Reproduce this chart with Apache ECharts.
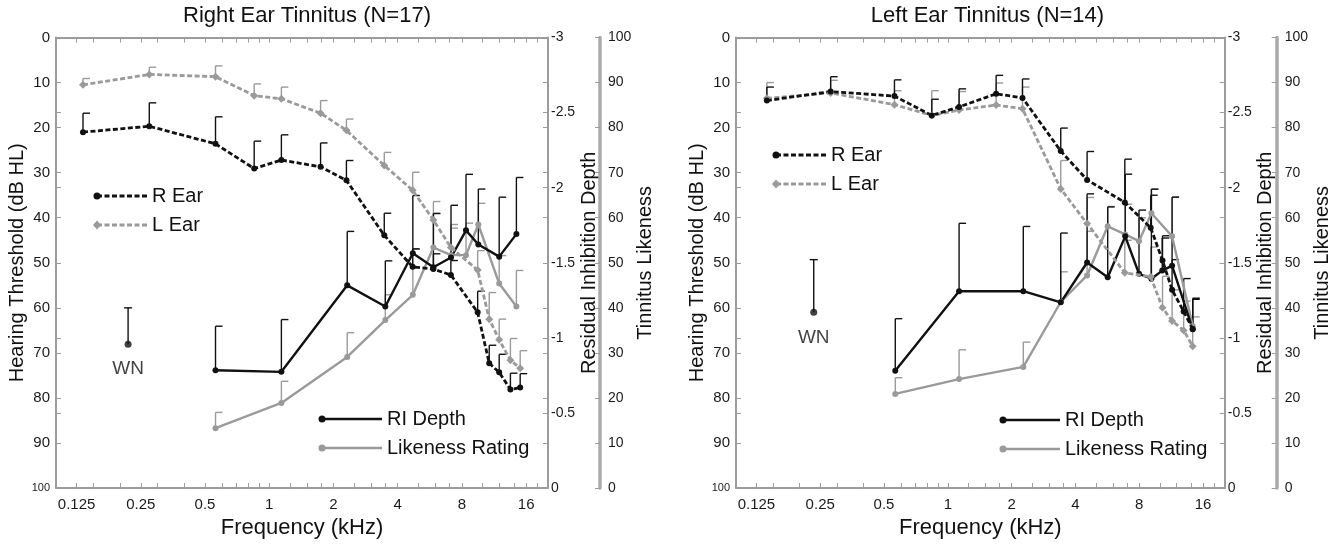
<!DOCTYPE html>
<html>
<head>
<meta charset="utf-8">
<script src="https://cdn.jsdelivr.net/npm/echarts@6/dist/echarts.min.js"></script>
<style>
  html, body { margin: 0; background: #fff; }
  #chart { width: 1333px; height: 544px; }
</style>
</head>
<body>
<div id="chart"></div>
<script>
'use strict';
// Hearing threshold / residual inhibition / likeness, two tinnitus groups

// ---------- frequency axis (kHz, log2 scale) ----------
const xMajorFreq = [0.125, 0.25, 0.5, 1, 2, 4, 8, 16];
const xMinorFreq = [0.15, 0.2, 0.3, 0.4, 0.6, 0.7, 0.8, 0.9, 1.25, 1.5, 1.75, 2.5, 3, 3.5, 5, 6, 7, 10, 12, 14, 18];

// ---------- Right Ear Tinnitus (N=17) ----------
const rtEarFreq = [0.134, 0.274, 0.56, 0.85, 1.14, 1.74, 2.3, 3.46, 4.7, 5.88, 7.1, 9.48, 10.74, 11.96, 13.5, 15.0];
const rtREar    = [21.0, 19.7, 23.6, 29.1, 27.2, 28.7, 31.7, 43.9, 50.9, 51.4, 52.7, 61.0, 72.3, 74.3, 78.1, 77.7];
const rtREarTop = [16.8, 14.5, 17.6, 23.0, 21.6, 23.4, 27.3, 39.0, 46.9, 48.0, 49.5, 56.3, 68.3, 70.3, 74.5, 74.6];
const rtLEar    = [10.5, 8.2, 8.7, 12.9, 13.6, 16.8, 20.6, 28.4, 33.9, 40.5, 46.6, 51.6, 62.5, 67.1, 71.6, 73.4];
const rtLEarTop = [9.1, 6.6, 6.3, 10.3, 11.0, 14.0, 18.1, 25.5, 29.9, 36.4, 42.3, 47.3, 56.6, 62.5, 66.8, 69.5];
const rtRiFreq  = [0.56, 1.14, 2.32, 3.5, 4.71, 5.88, 7.11, 8.36, 9.55, 11.96, 14.4];
const rtRi      = [-0.785, -0.774, -1.35, -1.209, -1.564, -1.47, -1.535, -1.716, -1.622, -1.541, -1.691];
const rtRiTop   = [-1.078, -1.122, -1.709, -1.513, -1.948, -1.828, -1.883, -2.089, -1.991, -1.937, -2.068];
const rtLike    = [13.3, 18.9, 29.1, 37.3, 42.9, 53.4, 51.7, 51.7, 58.5, 45.4, 40.3];
const rtLikeTop = [16.8, 23.7, 34.5, 42.9, 53.0, 61.0, 58.5, 58.8, 63.2, 51.6, 48.3];
const rtWn = [0.218, 68.1, 60.0]; // freq, mean, top

// ---------- Left Ear Tinnitus (N=14) ----------
const ltEarFreq = [0.14, 0.28, 0.56, 0.84, 1.13, 1.69, 2.25, 3.41, 4.54, 6.84, 9.06, 10.3, 11.43, 12.96, 14.3];
const ltREar    = [14.0, 12.0, 13.0, 17.3, 15.4, 12.5, 13.4, 25.2, 31.6, 36.6, 42.2, 49.5, 56.0, 60.8, 64.7];
const ltREarTop = [11.0, 8.7, 9.4, 13.7, 11.4, 8.4, 9.2, 20.1, 25.3, 27.0, 35.0, 44.0, 49.3, 53.5, 58.1];
const ltLEar    = [13.5, 12.3, 14.9, 17.3, 16.1, 15.0, 15.8, 33.6, 41.3, 52.2, 53.1, 60.0, 62.9, 65.0, 68.5];
const ltLEarTop = [10.0, 9.5, 11.8, 11.8, 12.0, 10.1, 11.0, 27.3, 35.5, 45.0, 46.5, 53.0, 56.0, 58.5, 62.0];
const ltRiFreq  = [0.565, 1.13, 2.27, 3.41, 4.54, 5.68, 6.87, 7.98, 9.13, 10.27, 11.43, 14.3];
const ltRi      = [-0.781, -1.311, -1.311, -1.237, -1.502, -1.404, -1.676, -1.427, -1.394, -1.448, -1.481, -1.057];
const ltRiTop   = [-1.128, -1.763, -1.742, -1.698, -1.959, -1.872, -2.09, -1.851, -1.99, -1.665, -1.937, -1.263];
const ltLikeFreq = [0.565, 1.13, 2.27, 3.41, 4.54, 5.68, 6.87, 7.98, 9.13, 11.43, 14.3];
const ltLike    = [20.9, 24.2, 26.9, 41.3, 47.2, 58.1, 56.3, 54.8, 61.0, 55.9, 36.0];
const ltLikeTop = [24.5, 30.7, 32.4, 48.0, 57.0, 62.5, 63.0, 60.0, 66.4, 64.6, 42.2];
const ltWn = [0.233, 61.0, 49.3];

// ---------- style ----------
const FONT = 'Liberation Sans, Arial, sans-serif';
const BLACK = '#111';
const GRAY = '#9a9a9a';
const AXIS = '#9c9c9c';
const X_MIN = -3.32, X_MAX = 4.34;

const panels = [
  {
    title: 'Right Ear Tinnitus (N=17)', left: 56, width: 492,
    earFreq: rtEarFreq, rEar: rtREar, rEarTop: rtREarTop, lEarFreq: rtEarFreq, lEar: rtLEar, lEarTop: rtLEarTop,
    riFreq: rtRiFreq, ri: rtRi, riTop: rtRiTop, likeFreq: rtRiFreq, like: rtLike, likeTop: rtLikeTop, wn: rtWn, wnGap: 11,
    legTop: { x: 97, y: 196, len: 50 }, legBot: { x: 322, y: 419, len: 60 }
  },
  {
    title: 'Left Ear Tinnitus (N=14)', left: 736, width: 493,
    earFreq: ltEarFreq, rEar: ltREar, rEarTop: ltREarTop, lEarFreq: ltEarFreq, lEar: ltLEar, lEarTop: ltLEarTop,
    riFreq: ltRiFreq, ri: ltRi, riTop: ltRiTop, likeFreq: ltLikeFreq, like: ltLike, likeTop: ltLikeTop, wn: ltWn, wnGap: 12,
    legTop: { x: 776, y: 155, len: 50 }, legBot: { x: 1003, y: 420, len: 57 }
  }
];

const pts = (freq, vals) => freq.map((f, i) => [Math.log2(f), vals[i]]);
const bars = (freq, vals, tops) => freq.map((f, i) => [Math.log2(f), vals[i], tops[i]]);

// one-sided error bar, cap to the right (or centred for WN)
function errRender(color, centred) {
  return (params, api) => {
    const p = api.coord([api.value(0), api.value(1)]);
    const t = api.coord([api.value(0), api.value(2)]);
    const style = { stroke: color, lineWidth: 1.4 };
    return {
      type: 'group',
      children: [
        { type: 'line', shape: { x1: p[0], y1: p[1], x2: t[0], y2: t[1] }, style },
        { type: 'line', shape: { x1: centred ? t[0] - 4 : t[0], y1: t[1], x2: t[0] + (centred ? 4 : 7), y2: t[1] }, style }
      ]
    };
  };
}

function errSeries(xi, yi, data, color, centred) {
  return {
    type: 'custom', xAxisIndex: xi, yAxisIndex: yi, z: 1, silent: true,
    encode: { x: 0, y: [1, 2] }, data, renderItem: errRender(color, centred)
  };
}

function lineSeries(xi, yi, data, color, dashed, symbol) {
  return {
    type: 'line', xAxisIndex: xi, yAxisIndex: yi, z: dashed ? 3 : 2, data,
    symbol, symbolSize: symbol === 'diamond' ? 8 : 6,
    itemStyle: { color },
    lineStyle: { color, width: dashed ? 2.8 : 2.4, type: dashed ? [5, 2.5] : 'solid' }
  };
}

const tickStyle = { show: true, inside: true, length: 5, lineStyle: { color: AXIS, width: 1 } };
const labelStyle = (size) => ({ color: '#1a1a1a', fontSize: size, fontFamily: FONT });

function legendItem(o, row, color, dashed, symbol, text) {
  const y = o.y + row * (o.rowGap || 29);
  const mark = symbol === 'diamond'
    ? { type: 'polygon', shape: { points: [[o.x, y - 4.5], [o.x + 4, y], [o.x, y + 4.5], [o.x - 4, y]] }, style: { fill: color } }
    : { type: 'circle', shape: { cx: o.x, cy: y, r: 3.5 }, style: { fill: color } };
  return [
    { type: 'line', shape: { x1: o.x, y1: y, x2: o.x + o.len, y2: y }, style: { stroke: color, lineWidth: dashed ? 2.8 : 2.4, lineDash: dashed ? [5, 2.5] : null } },
    mark,
    { type: 'text', x: o.x + o.len + 5, y, style: { text, fill: '#111', fontSize: 20, fontFamily: FONT, verticalAlign: 'middle' } }
  ];
}

const option = { animation: false, backgroundColor: '#fff', title: [], grid: [], xAxis: [], yAxis: [], series: [], graphic: [] };
const xTicks = xMajorFreq.concat(xMinorFreq).map(Math.log2);

panels.forEach((p, k) => {
  option.title.push({
    text: p.title, left: p.left + p.width / 2, top: 0, textAlign: 'center',
    textStyle: { fontSize: 22, fontWeight: 'normal', color: '#111', fontFamily: FONT }
  });
  option.grid.push({ left: p.left, top: 37.5, width: p.width, height: 459.5 });

  const xi = option.xAxis.length;
  option.xAxis.push(
    {
      type: 'value', gridIndex: k, position: 'bottom', min: X_MIN, max: X_MAX,
      name: 'Frequency (kHz)', nameLocation: 'middle', nameGap: 24,
      nameTextStyle: { fontSize: 22, color: '#111', fontFamily: FONT },
      axisLine: { onZero: false, lineStyle: { color: AXIS, width: 2 } },
      axisTick: Object.assign({ customValues: xTicks }, tickStyle),
      axisLabel: Object.assign({ customValues: xMajorFreq.map(Math.log2), margin: 9, formatter: (v) => String(Math.pow(2, Math.round(v))) }, labelStyle(15)),
      splitLine: { show: false }
    },
    {
      type: 'value', gridIndex: k, position: 'top', min: X_MIN, max: X_MAX,
      axisLine: { onZero: false, lineStyle: { color: AXIS, width: 2 } },
      axisTick: Object.assign({ customValues: xTicks }, tickStyle),
      axisLabel: { show: false }, splitLine: { show: false }
    }
  );

  const yi = option.yAxis.length;
  option.yAxis.push(
    { // dB HL
      type: 'value', gridIndex: k, position: 'left', inverse: true, min: 0, max: 100, interval: 10,
      name: 'Hearing Threshold (dB HL)', nameLocation: 'middle', nameGap: 27, nameRotate: 90,
      nameTextStyle: { fontSize: 20, color: '#111', fontFamily: FONT },
      axisLine: { show: true, onZero: false, lineStyle: { color: AXIS, width: 2 } },
      axisTick: tickStyle,
      axisLabel: Object.assign({ margin: 6, formatter: (v) => v === 100 ? '{s|100}' : String(v), rich: { s: { fontSize: 11, fontFamily: FONT, color: '#1a1a1a' } } }, labelStyle(15)),
      splitLine: { show: false }
    },
    { // dB ticks mirrored on the right
      type: 'value', gridIndex: k, position: 'right', inverse: true, min: 0, max: 100, interval: 10,
      axisLine: { show: false, onZero: false }, axisTick: tickStyle, axisLabel: { show: false }, splitLine: { show: false }
    },
    { // residual inhibition depth
      type: 'value', gridIndex: k, position: 'right', inverse: true, min: -3, max: 0, interval: 0.5,
      name: 'Residual Inhibition Depth', nameLocation: 'middle', nameGap: 24, nameRotate: 90,
      nameTextStyle: { fontSize: 20, color: '#111', fontFamily: FONT },
      axisLine: { show: true, onZero: false, lineStyle: { color: AXIS, width: 2 } },
      axisTick: tickStyle,
      axisLabel: Object.assign({ margin: 3 }, labelStyle(14)),
      splitLine: { show: false }
    },
    { // RI ticks mirrored on the left
      type: 'value', gridIndex: k, position: 'left', inverse: true, min: -3, max: 0, interval: 0.5,
      axisLine: { show: false, onZero: false }, axisTick: tickStyle, axisLabel: { show: false }, splitLine: { show: false }
    },
    { // tinnitus likeness
      type: 'value', gridIndex: k, position: 'right', offset: 52, min: 0, max: 100, interval: 10,
      name: 'Tinnitus Likeness', nameLocation: 'middle', nameGap: 25, nameRotate: 90,
      nameTextStyle: { fontSize: 20, color: '#111', fontFamily: FONT },
      axisLine: { show: true, onZero: false, lineStyle: { color: '#aaa', width: 3.5 } },
      axisTick: { show: true, inside: true, length: 5, lineStyle: { color: AXIS } },
      axisLabel: Object.assign({ margin: 8 }, labelStyle(14)),
      splitLine: { show: false }
    }
  );

  option.series.push(
    errSeries(xi, yi, bars(p.lEarFreq, p.lEar, p.lEarTop), GRAY),
    errSeries(xi, yi + 4, bars(p.likeFreq, p.like, p.likeTop), GRAY),
    errSeries(xi, yi, bars(p.earFreq, p.rEar, p.rEarTop), BLACK),
    errSeries(xi, yi + 2, bars(p.riFreq, p.ri, p.riTop), BLACK),
    errSeries(xi, yi, [[Math.log2(p.wn[0]), p.wn[1], p.wn[2]]], BLACK, true),
    lineSeries(xi, yi, pts(p.lEarFreq, p.lEar), GRAY, true, 'diamond'),
    lineSeries(xi, yi + 4, pts(p.likeFreq, p.like), GRAY, false, 'circle'),
    lineSeries(xi, yi, pts(p.earFreq, p.rEar), BLACK, true, 'circle'),
    lineSeries(xi, yi + 2, pts(p.riFreq, p.ri), BLACK, false, 'circle'),
    {
      type: 'scatter', xAxisIndex: xi, yAxisIndex: yi, z: 4, symbolSize: 7,
      itemStyle: { color: BLACK },
      data: [[Math.log2(p.wn[0]), p.wn[1]]],
      label: { show: true, position: 'bottom', distance: p.wnGap, formatter: 'WN', color: '#111', fontSize: 19, fontFamily: FONT }
    }
  );

  option.graphic.push(
    ...legendItem(p.legTop, 0, BLACK, true, 'circle', 'R Ear'),
    ...legendItem(p.legTop, 1, GRAY, true, 'diamond', 'L Ear'),
    ...legendItem(p.legBot, 0, BLACK, false, 'circle', 'RI Depth'),
    ...legendItem(p.legBot, 1, GRAY, false, 'circle', 'Likeness Rating')
  );
});

const chart = echarts.init(document.getElementById('chart'));
chart.setOption(option);
window.addEventListener('resize', () => chart.resize());
</script>
</body>
</html>
